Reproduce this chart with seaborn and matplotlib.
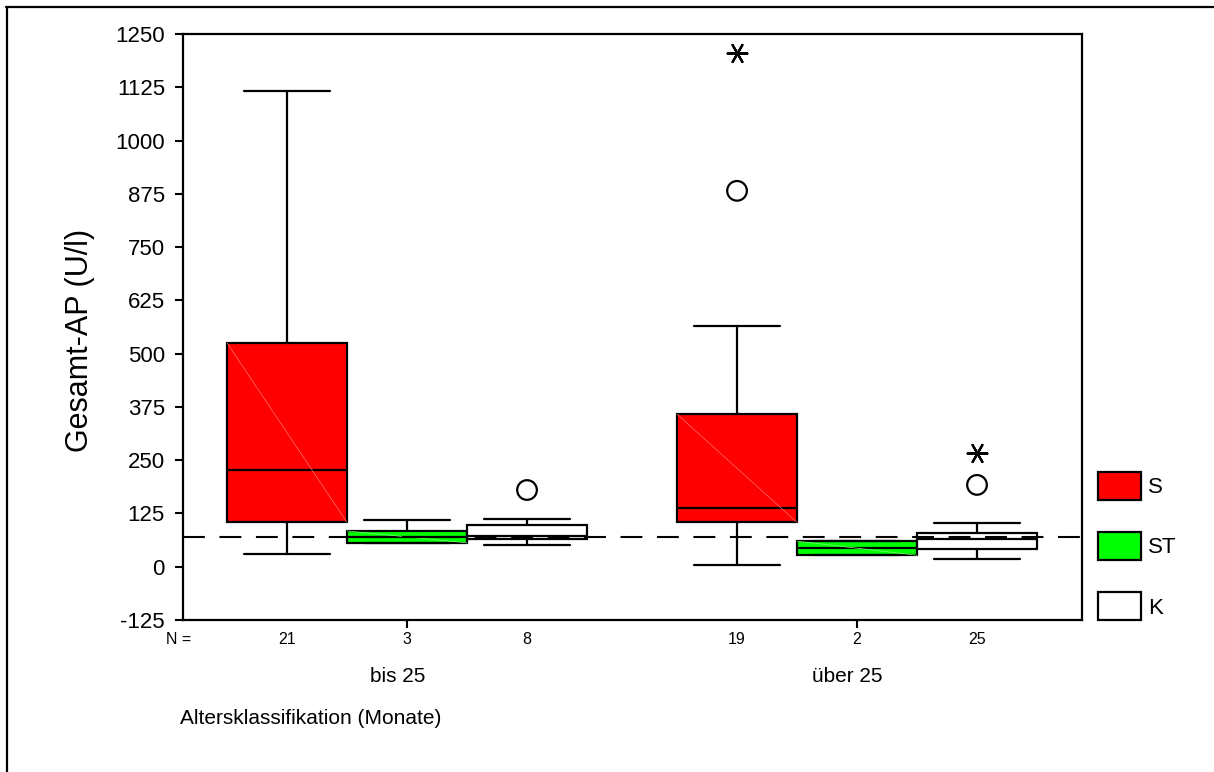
import numpy as np
import matplotlib.pyplot as plt
import matplotlib.transforms as mtransforms
from matplotlib.patches import Patch
from matplotlib.lines import Line2D
import seaborn as sns

# categories
groups = ["bis 25", "über 25"]
series = ["S", "ST", "K"]
series_colors = ["#ff0000", "#00ff00", "#ffffff"]
diag_colors = ["#ff7070", "#80ff80", None]

# one entry per box: bis 25 (S, ST, K), über 25 (S, ST, K)
n_counts = [21, 3, 8, 19, 2, 25]
whisker_low = [31, 56, 50, 3, 27, 18]
q1 = [104, 56, 65, 104, 27, 41]
median = [228, 70, 72, 137, 45, 66]
q3 = [525, 84, 98, 358, 60, 78]
whisker_high = [1117, 110, 112, 565, 60, 103]
circle_outliers = [[], [], [180], [882], [], [192]]
star_outliers = [[], [], [], [1206], [], [266]]

ref_value = 70
y_ticks = np.arange(-125, 1251, 125)

W, H = 1214, 772


def fx(px):
    return px / W


def fy(py):
    return 1 - py / H


sns.set_style("ticks")
plt.rcParams['font.family'] = ['Liberation Sans', 'DejaVu Sans']
plt.rcParams['text.color'] = 'black'
plt.rcParams['xtick.labelcolor'] = 'black'
plt.rcParams['ytick.labelcolor'] = 'black'

fig = plt.figure(figsize=(W / 100, H / 100), dpi=100)
ax = fig.add_axes([fx(183), fy(620), fx(1082) - fx(183), fy(34) - fy(620)])

group_step = 3.75
positions = [g * group_step + s for g in range(len(groups)) for s in range(len(series))]

stats = []
for k in range(len(positions)):
    stats.append(dict(med=median[k], q1=q1[k], q3=q3[k],
                      whislo=whisker_low[k], whishi=whisker_high[k], fliers=[]))

lw = 1.6
bp = ax.bxp(stats, positions=positions, widths=1.0, capwidths=0.71,
            patch_artist=True, showfliers=False,
            boxprops=dict(linewidth=lw, edgecolor='black'),
            medianprops=dict(color='black', linewidth=lw),
            whiskerprops=dict(color='black', linewidth=lw),
            capprops=dict(color='black', linewidth=lw))
for k, box in enumerate(bp['boxes']):
    box.set_facecolor(series_colors[k % 3])
    dc = diag_colors[k % 3]
    if dc is not None:
        # faint diagonal rendering seam as in the original export
        ax.plot([positions[k] - 0.5, positions[k] + 0.5], [q3[k], q1[k]],
                color=dc, lw=0.5, zorder=2.5)

# outliers
cx = [positions[k] for k in range(6) for v in circle_outliers[k]]
cy = [v for k in range(6) for v in circle_outliers[k]]
sx = [positions[k] for k in range(6) for v in star_outliers[k]]
sy = [v for k in range(6) for v in star_outliers[k]]
sns.scatterplot(x=cx, y=cy, marker='o', s=200, facecolor='none',
                edgecolor='black', linewidth=1.6, ax=ax, zorder=4)
sns.scatterplot(x=sx, y=sy, marker=(6, 2, 90), s=200, color='black',
                linewidth=1.6, ax=ax, zorder=4)

# reference line
ax.axhline(ref_value, color='black', lw=1.5, linestyle=(0, (10.5, 7)), zorder=5)

ax.set_xlim(-0.867, 6.625)
ax.set_ylim(-125, 1250)
ax.set_yticks(y_ticks)
ax.set_yticklabels([str(v) for v in y_ticks], fontsize=16)
ax.set_xticks([1 + g * group_step for g in range(len(groups))])
ax.set_xticklabels([])
ax.tick_params(axis='both', direction='out', length=6, width=1.5, color='black', pad=7)
for sp in ax.spines.values():
    sp.set_visible(True)
    sp.set_linewidth(1.6)
    sp.set_color('black')
ax.set_xlabel('')
ax.set_ylabel('')

# counts below axis
trans = mtransforms.blended_transform_factory(ax.transData, fig.transFigure)
for k, n in enumerate(n_counts):
    ax.text(positions[k], fy(640), str(n), transform=trans, ha='center', va='center', fontsize=11.5)
fig.text(fx(179), fy(640), 'N =', ha='center', va='center', fontsize=11.5)

for g, name in enumerate(groups):
    ax.text(1 + g * group_step - 0.08, fy(676), name, transform=trans,
            ha='center', va='center', fontsize=15)

fig.text(fx(180), fy(718), 'Altersklassifikation (Monate)', ha='left', va='center', fontsize=15)
fig.text(fx(80), fy(340), 'Gesamt-AP (U/l)', rotation=90, ha='center', va='center', fontsize=22)

# legend
handles = [Patch(facecolor=c, edgecolor='black', linewidth=1.6) for c in series_colors]
fig.legend(handles, series, loc='upper left', bbox_to_anchor=(fx(1098), fy(472)),
           frameon=False, fontsize=16, handlelength=1.94, handleheight=1.56,
           handletextpad=0.3, labelspacing=1.45, borderpad=0, borderaxespad=0)

# outer frame (top and left edges only, as in the original)
fig.add_artist(Line2D([fx(6), 1], [fy(7), fy(7)], color='black', lw=1.6))
fig.add_artist(Line2D([fx(7), fx(7)], [fy(7), 0], color='black', lw=1.6))

fig.savefig('out.png', dpi=100)
